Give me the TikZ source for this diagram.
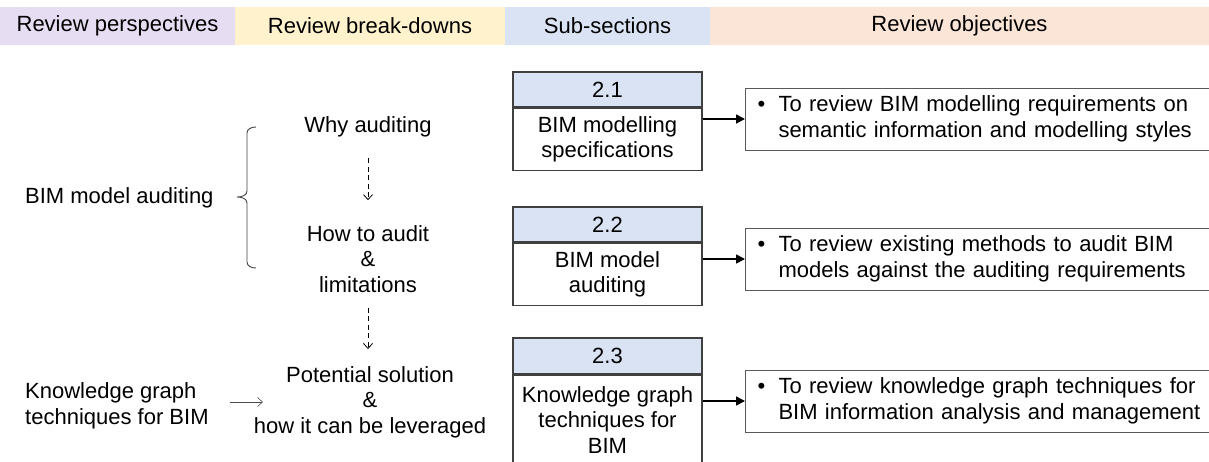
\documentclass[tikz,border=0pt]{standalone}
\usepackage{fontspec}
\setmainfont{Liberation Sans}
\usetikzlibrary{arrows.meta,positioning}
\definecolor{perspfill}{HTML}{E6DDF3}
\definecolor{breakfill}{HTML}{FFF2CC}
\definecolor{secfill}{HTML}{DAE3F3}
\definecolor{objfill}{HTML}{FBE5D6}
\definecolor{boxline}{HTML}{404040}
\newcommand{\diagfont}{\fontsize{22}{25.5}\selectfont}
\tikzset{
  >=Stealth,
  hdr/.style={rectangle,inner sep=0pt,outer sep=0pt,minimum height=38pt,font=\diagfont},
  sechead/.style={rectangle,draw=boxline,line width=1.1pt,fill=secfill,
                  minimum width=189pt,minimum height=35pt,inner sep=0pt,font=\diagfont},
  secbody/.style={rectangle,draw=boxline,line width=1.1pt,fill=white,
                  minimum width=189pt,inner sep=0pt,align=center,font=\diagfont},
  objbox/.style={rectangle,draw=black!65,line width=1pt,fill=white,anchor=west,
                 text width=446pt,inner xsep=12pt,minimum height=62pt,
                 align=left,font=\diagfont},
  txt/.style={inner sep=0pt,align=center,font=\diagfont},
  bracket/.style={draw=black!75,line width=0.9pt},
  arr/.style={-{Triangle[length=9pt,width=9pt]},line width=1.6pt},
  darr/.style={-{Straight Barb[length=5pt,width=9pt]},line width=0.8pt,
               dash pattern=on 5pt off 3.5pt},
  thinarr/.style={-{Straight Barb[length=5pt,width=9pt]},line width=0.6pt,black!70},
}
\newcommand{\bul}{\makebox[21pt][l]{\textbullet}}

\begin{document}
\begin{tikzpicture}[x=1pt,y=-1pt]
    \useasboundingbox (0,0) rectangle (1209,461);

    % Column headers
    \node[hdr,fill=perspfill,minimum width=235pt] (hp) at (117.5,26) {Review perspectives};
    \node[hdr,fill=breakfill,minimum width=270pt,right=0pt of hp] (hb) {Review break-downs};
    \node[hdr,fill=secfill,minimum width=205pt,right=0pt of hb] (hs) {Sub-sections};
    \node[hdr,fill=objfill,minimum width=499pt,right=0pt of hs] (ho) {Review objectives};

    % Review perspectives
    \node[txt,anchor=west] (aud) at (25,198) {BIM model auditing};
    \node[txt,anchor=west,align=left] (kg) at (25,406)
          {Knowledge graph\\techniques for BIM};
    \coordinate (kgtip) at (263,402);

    % Brace
    \draw[bracket] (256,127) to[out=180,in=90] (247,133) -- (247,191)
          to[out=-90,in=0] (237,197) to[out=0,in=90] (247,203) -- (247,262)
          to[out=-90,in=180] (256,268);

    % Review break-downs
    \node[txt] (why) at (368,127) {Why auditing};
    \node[txt] (how) at (368,259) {How to audit\\\&\\limitations};
    \node[txt] (pot) at (370,402) {Potential solution\\\&\\how it can be leveraged};

    % Sub-sections
    \node[sechead] (s1) at (607.5,89.5) {2.1};
    \node[secbody,minimum height=62pt,below=0pt of s1] (b1) {BIM modelling\\specifications};
    \node[sechead] (s2) at (607.5,224.5) {2.2};
    \node[secbody,minimum height=62pt,below=0pt of s2] (b2) {BIM model\\auditing};
    \node[sechead,minimum height=36pt] (s3) at (607.5,356) {2.3};
    \node[secbody,minimum height=89pt,below=0pt of s3] (b3) {Knowledge graph\\techniques for\\BIM};

    % Review objectives
    \node[objbox] (o1) at (745,119)
          {\bul To review BIM modelling requirements on\\\hspace*{21pt}semantic information and modelling styles};
    \node[objbox] (o2) at (745,259)
          {\bul To review existing methods to audit BIM\\\hspace*{21pt}models against the auditing requirements};
    \node[objbox] (o3) at (745,401)
          {\bul To review knowledge graph techniques for\\\hspace*{21pt}BIM information analysis and management};

    % Arrows
    \draw[darr,shorten <=21pt,shorten >=25pt] (why) -- (how);
    \draw[darr,shorten <=15pt,shorten >=17pt] (how.south) -- (how.south |- pot.north);
    \draw[thinarr,shorten <=21pt] (kg.east |- kgtip) -- (kgtip);
    \foreach \b/\o in {b1/o1,b2/o2,b3/o3}{
      \draw[arr] (\b.east |- \o.west) -- (\o.west);
    }
\end{tikzpicture}
\end{document}
